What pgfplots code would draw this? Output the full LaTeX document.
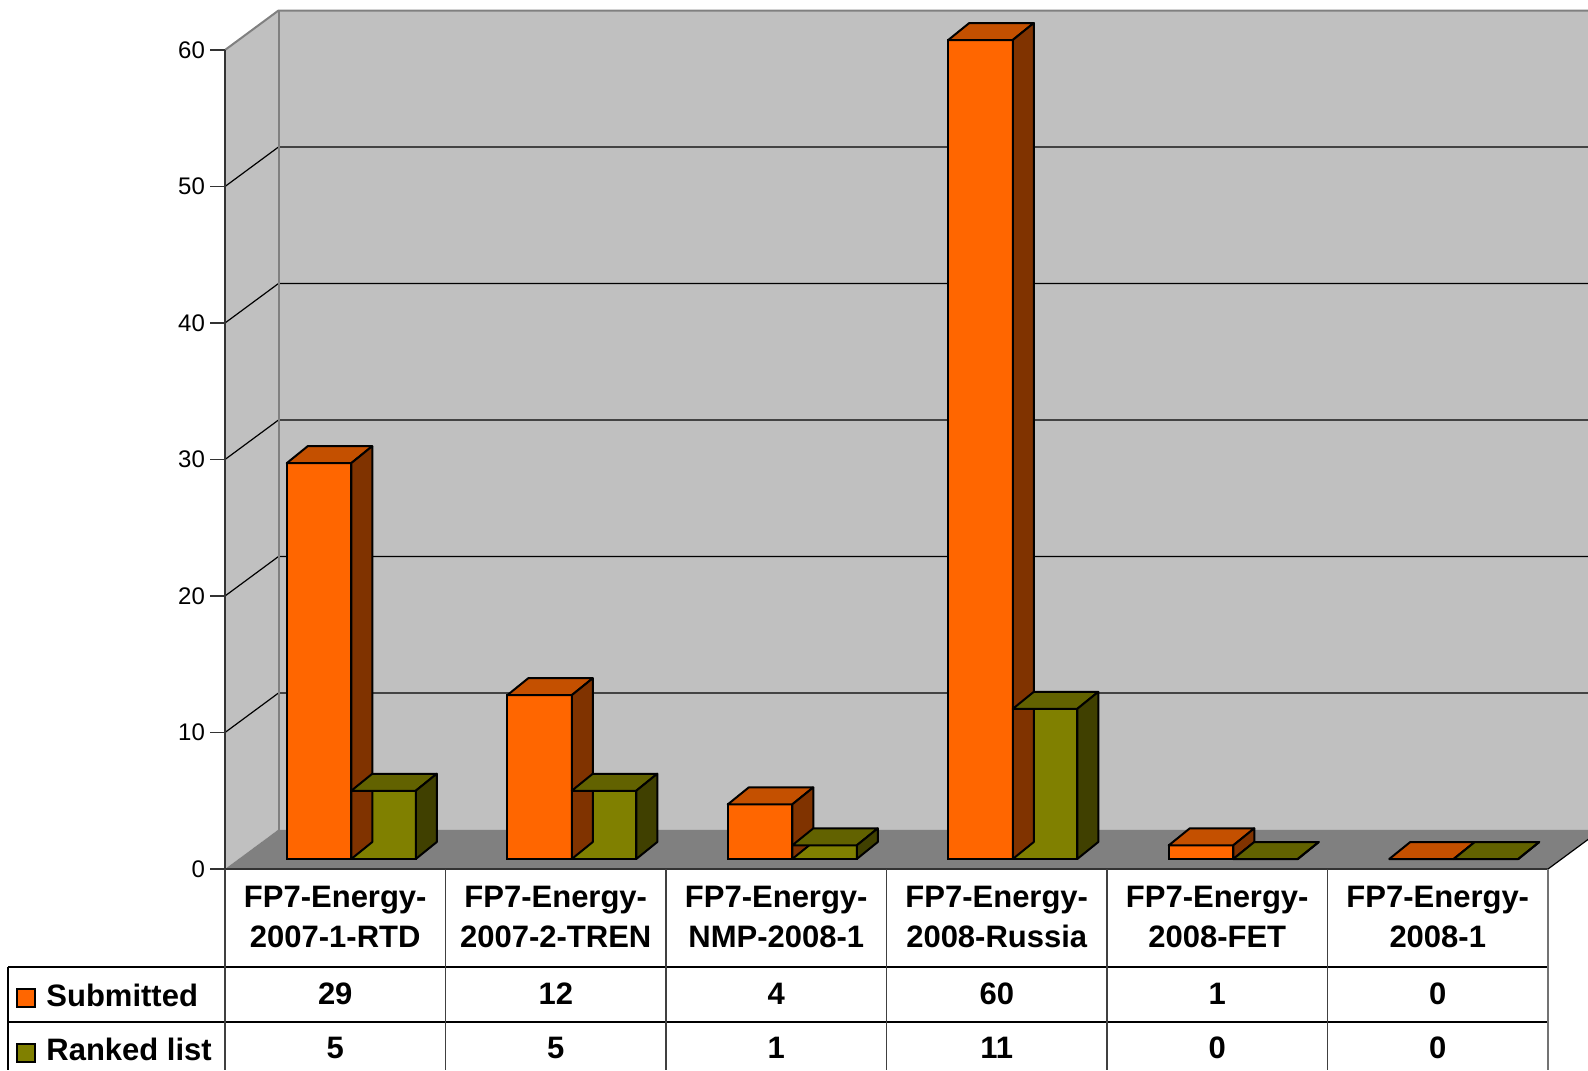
\documentclass[border=0pt]{standalone}
\usepackage{pgfplots}
\pgfplotsset{compat=1.18}
\usepackage{pgfplotstable}
\usepackage{fontspec}
\setmainfont{Liberation Sans}

\definecolor{orgF}{HTML}{FF6600}
\definecolor{orgT}{HTML}{C45000}
\definecolor{orgS}{HTML}{803300}
\definecolor{olvF}{HTML}{808000}
\definecolor{olvT}{HTML}{626200}
\definecolor{olvS}{HTML}{404000}
\definecolor{wallgrey}{HTML}{C0C0C0}
\definecolor{floorgrey}{HTML}{808080}

\newcommand\px{0.5pt}% one pixel of the reference
\newcommand\tabfont{\bfseries\fontsize{15.5}{20}\selectfont}
\pgfdeclareplotmark{blank}{}

\pgfplotstableread{
x sub rank
0 29 5
1 12 5
2 4  1
3 60 11
4 1  0
5 0  0
}\calls

\pgfplotsset{
  % top and side face of a bar: left edge, width (px), top colour, side colour
  prism/.style n args={4}{
    only marks, mark=blank, scatter, forget plot,
    visualization depends on={y \as \hgt},
    scatter/@pre marker code/.code={
      \filldraw[fill=#3, draw=black, line width=1pt, line join=round]
        (#1*\px,10*\px) -- ++(21*\px,17*\px) -- ++(#2*\px,0pt)
        -- ++(-21*\px,-17*\px) -- cycle;
      \filldraw[fill=#4, draw=black, line width=1pt, line join=round]
        ({(#1+#2)*\px},10*\px) -- ++(21*\px,17*\px) -- ++(0pt,{-\hgt*13.65*\px})
        -- ++(-21*\px,-17*\px) -- cycle;
    },
    scatter/@post marker code/.code={},
  },
  tabval/.style={
    only marks, mark=blank, scatter, forget plot, point meta=explicit,
    scatter/@pre marker code/.code={\node[font=\tabfont, inner sep=0pt] at (0pt,0pt)
      {\pgfmathprintnumber[fixed, precision=0]{\pgfplotspointmeta}};},
    scatter/@post marker code/.code={},
  },
}

\begin{document}
\begin{tikzpicture}
\useasboundingbox (0pt,0pt) rectangle (794pt,-535pt);
\begin{axis}[
  at={(112.5pt,-434.5pt)}, anchor=south west,
  x=110.25pt, y=6.825pt,
  xmin=-0.5, xmax=5.5, ymin=0, ymax=60,
  clip=false,
  axis x line*=bottom, axis y line*=left,
  axis line style={draw=none},
  major tick length=0pt,
  ytick={0,10,20,30,40,50,60},
  xtick={0,1,2,3,4,5},
  xticklabels={{FP7-Energy-\\2007-1-RTD},{FP7-Energy-\\2007-2-TREN},{FP7-Energy-\\NMP-2008-1},
    {FP7-Energy-\\2008-Russia},{FP7-Energy-\\2008-FET},{FP7-Energy-\\2008-1}},
  yticklabel style={font=\fontsize{12}{14}\selectfont, xshift=-6.5pt},
  xticklabel style={font=\tabfont, align=center, anchor=center, yshift=-24pt},
  /pgf/number format/assume math mode=true,
]
% walls and floor
\fill[wallgrey] (axis cs:-0.5,0) -- (axis cs:-0.5,60) -- ++(53.5*\px,39.5*\px)
  -- ++(1309.5*\px,0pt) -- ++(0pt,-819*\px) -- ++(-1309.5*\px,0pt) -- cycle;
\fill[floorgrey] (axis cs:-0.5,0) -- (axis cs:5.5,0) -- ++(53.5*\px,39.5*\px)
  -- ++(-1323*\px,0pt) -- cycle;
\draw[line width=0.6pt] (axis cs:5.5,0) -- ++(53.5*\px,39.5*\px);
\pgfplotsinvokeforeach{10,20,30,40,50}{
  \draw[line width=0.6pt] (axis cs:-0.5,#1) -- ++(53.5*\px,39.5*\px) -- ++(1309.5*\px,0pt);
}
\draw[floorgrey, line width=1pt] (axis cs:-0.5,60) -- ++(53.5*\px,39.5*\px) -- ++(1309.5*\px,0pt);
\draw[floorgrey, line width=1pt] (axis cs:-0.5,60) ++(53.5*\px,39.5*\px) -- ++(0pt,-819*\px);
\draw[black!80, line width=0.9pt] (axis cs:-0.5,60) -- (axis cs:-0.5,0) -- (axis cs:5.5,0);
\pgfplotsinvokeforeach{0,10,20,30,40,50,60}{
  \draw[black!80, line width=0.6pt] (axis cs:-0.5,#1) -- ++(-15*\px,0pt);
}

% bars
\addplot[ybar, bar width=32.25pt, bar shift=-8.125pt, yshift=5pt,
  fill=orgF, draw=black, line width=1pt, forget plot] table[x=x,y=sub]{\calls};
\addplot[prism={-48.5}{64.5}{orgT}{orgS}] table[x=x,y=sub]{\calls};
\addplot[ybar, bar width=32.25pt, bar shift=24.125pt, yshift=5pt,
  fill=olvF, draw=black, line width=1pt, forget plot] table[x=x,y=rank]{\calls};
\addplot[prism={16}{64.5}{olvT}{olvS}] table[x=x,y=rank]{\calls};

% data table values
\addplot[tabval] table[x=x, y expr=-9.12, meta=sub]{\calls};
\addplot[tabval] table[x=x, y expr=-13.11, meta=rank]{\calls};
\end{axis}

\begin{scope}[x=0.5pt, y=-0.5pt]
  \draw[line width=0.6pt] (8,967) -- (1548,967) (8,1022) -- (1548,1022);
  \draw[line width=0.6pt] (8,967) -- (8,1070);
  \foreach \cx in {225,445.5,666,886.5,1107,1327.5}
    \draw[line width=0.6pt, black!75] (\cx,869) -- (\cx,1070);
  \draw[line width=0.6pt, black!55] (1548,869) -- (1548,1070);
  \filldraw[fill=orgF, draw=black, line width=0.8pt] (17,989) rectangle (35,1007);
  \filldraw[fill=olvF, draw=black, line width=0.8pt] (17,1044) rectangle (35,1062);
  \node[font=\tabfont, anchor=base west, inner sep=0pt] at (46,1006.5) {Submitted};
  \node[font=\tabfont, anchor=base west, inner sep=0pt] at (46,1060) {Ranked list};
\end{scope}
\end{tikzpicture}
\end{document}
